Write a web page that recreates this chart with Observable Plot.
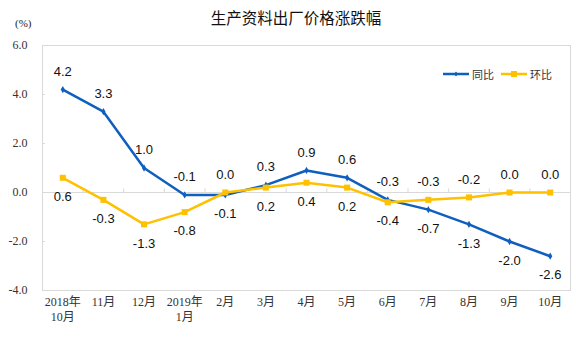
<!DOCTYPE html>
<html>
<head>
<meta charset="utf-8">
<script src="https://cdn.jsdelivr.net/npm/d3@7"></script>
<script src="https://cdn.jsdelivr.net/npm/@observablehq/plot@0.6"></script>
<style>
  html, body { margin: 0; padding: 0; background: #fff; }
  #wrap { position: relative; width: 576px; height: 343px; background: #fff; overflow: hidden; }
  #wrap svg.plot { position: absolute; left: 0; top: 0; }
  .title { position: absolute; left: 8px; width: 576px; top: 7px; text-align: center;
           font: 15.5px/20px "Noto Sans CJK SC", sans-serif; color: #111; }
  .unit { position: absolute; left: 15px; top: 15px; font: 11px/16px "Liberation Serif", "Noto Sans CJK SC", serif; color: #222; }
  .legend { position: absolute; left: 443px; top: 63px; font: 11px/18px "Noto Sans CJK SC", sans-serif; color: #333; display: flex; align-items: center; }
  .legend span { display: inline-flex; align-items: center; }
  .legend svg { display: block; }
</style>
</head>
<body>
<div id="wrap">
  <div class="title">生产资料出厂价格涨跌幅</div>
  <div class="unit">(%)</div>
  <div class="legend" id="legend"></div>
</div>
<script>
// ---- data ----
const months = ["2018年\n10月", "11月", "12月", "2019年\n1月", "2月", "3月", "4月", "5月", "6月", "7月", "8月", "9月", "10月"];
const tongbi = [4.2, 3.3, 1.0, -0.1, -0.1, 0.3, 0.9, 0.6, -0.3, -0.7, -1.3, -2.0, -2.6];
const huanbi = [0.6, -0.3, -1.3, -0.8, 0.0, 0.2, 0.4, 0.2, -0.4, -0.3, -0.2, 0.0, 0.0];
const yTicks = [-4, -2, 0, 2, 4, 6];
const seriesNames = ["同比", "环比"];
const colors = ["#0F5FBF", "#FFC000"];

const rows = months.map((m, i) => ({i, t: tongbi[i], h: huanbi[i]}));
const labels = rows.flatMap(d => [
  {i: d.i, v: d.t, up: d.t >= d.h},
  {i: d.i, v: d.h, up: d.h > d.t}
]);

const serif = '"Liberation Serif", "Noto Sans CJK SC", serif';
const sans = '"Liberation Sans", Arial, sans-serif';

const chart = Plot.plot({
  width: 576,
  height: 343,
  marginLeft: 42,
  marginRight: 6,
  marginTop: 45,
  marginBottom: 53,
  x: {type: "linear", domain: [-0.5, months.length - 0.5], axis: null},
  y: {domain: [-4, 6], axis: null},
  style: {background: "transparent", overflow: "visible"},
  marks: [
    Plot.frame({stroke: "#d9d9d9"}),
    Plot.ruleY([0], {stroke: "#d9d9d9"}),
    Plot.ruleX(d3.range(0.5, months.length - 1, 1), {y1: 0, y2: 0.15, stroke: "#d9d9d9"}),
    Plot.axisY(yTicks, {
      label: null, tickSize: -3, tickPadding: 18, stroke: "#d9d9d9", fill: "#333",
      tickFormat: d => d.toFixed(1), fontSize: 12, fontFamily: serif
    }),
    Plot.axisX(d3.range(months.length), {
      label: null, tickSize: 0, tickPadding: 4, tickFormat: i => months[i], lineHeight: 1.3,
      fill: "#333", fontSize: 12, fontFamily: serif
    }),
    Plot.line(rows, {x: "i", y: "t", stroke: colors[0], strokeWidth: 2.5}),
    Plot.dot(rows, {x: "i", y: "t", symbol: "diamond", r: 2.2, fill: colors[0]}),
    Plot.line(rows, {x: "i", y: "h", stroke: colors[1], strokeWidth: 2.5}),
    Plot.dot(rows, {x: "i", y: "h", symbol: "square", r: 3.4, fill: colors[1]}),
    Plot.text(labels.filter(d => d.up), {
      x: "i", y: "v", text: d => d.v.toFixed(1), dy: -18,
      fontSize: 13, fontFamily: sans, fill: "#111"
    }),
    Plot.text(labels.filter(d => !d.up), {
      x: "i", y: "v", text: d => d.v.toFixed(1), dy: 19,
      fontSize: 13, fontFamily: sans, fill: "#111"
    })
  ]
});
chart.classList.add("plot");
document.getElementById("wrap").prepend(chart);

// legend
const legend = document.getElementById("legend");
seriesNames.forEach((name, k) => {
  const span = document.createElement("span");
  span.style.marginRight = k === 0 ? "7px" : "0";
  const marker = k === 0
    ? `<path d="M13,8.5L15,11L13,13.5L11,11Z" fill="${colors[0]}"/>`
    : `<rect x="10" y="8" width="6" height="6" fill="${colors[1]}"/>`;
  span.innerHTML = `<svg width="29" height="22"><line x1="0" x2="26" y1="11" y2="11" stroke="${colors[k]}" stroke-width="2.5"/>${marker}</svg><span>${name}</span>`;
  legend.appendChild(span);
});
</script>
</body>
</html>
